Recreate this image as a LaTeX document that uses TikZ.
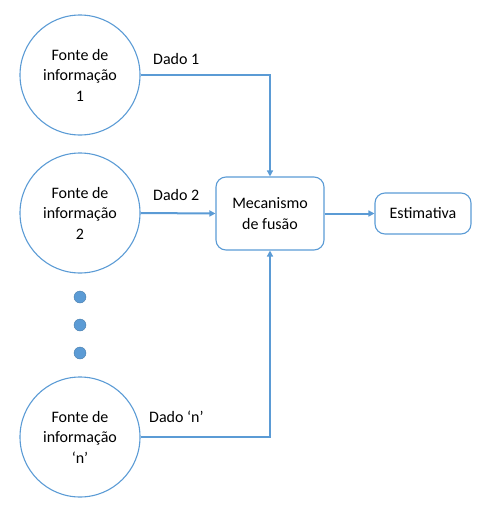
\documentclass[tikz,border=0pt]{standalone}
\usepackage{fontspec}
\setmainfont{Carlito}
\usetikzlibrary{arrows.meta}
\definecolor{lineblue}{RGB}{91,155,213}
\definecolor{dotblue}{RGB}{91,155,213}
\tikzset{
  src/.style={circle, draw=lineblue, line width=1.1pt, minimum size=120pt, inner sep=0pt, align=center, font=\fontsize{16}{20.5}\selectfont},
  boxnode/.style={draw=lineblue, line width=1.1pt, rounded corners=10pt, align=center, inner sep=0pt, font=\fontsize{16}{20.5}\selectfont},
  conn/.style={draw=lineblue, line width=2pt, -{Triangle[length=6pt,width=6pt]}},
  lbl/.style={anchor=west, inner sep=0pt, font=\fontsize{16}{20.5}\selectfont},
  dotnode/.style={circle, fill=dotblue, draw=dotblue!80!black, line width=0.4pt, minimum size=12pt, inner sep=0pt}
}
\begin{document}
\begin{tikzpicture}[x=1pt,y=-1pt]
\useasboundingbox (0,0) rectangle (483,507);
\node[src] (c1) at (80,75) {Fonte de\\informação\\1};
\node[src] (c2) at (80,213) {Fonte de\\informação\\2};
\node[src] (cn) at (80,437) {Fonte de\\informação\\‘n’};
\node[dotnode] (d1) at (80,297) {};
\node[dotnode] (d2) at (80,325) {};
\node[dotnode] (d3) at (80,353) {};
\node[boxnode, minimum width=108pt, minimum height=73pt] (mech) at (270,213.5) {Mecanismo\\de fusão};
\node[boxnode, minimum width=96pt, minimum height=41pt] (est) at (423,213.5) {Estimativa};
\draw[conn] (c1.east) -| (mech.north);
\draw[conn] (c2.east) -- (mech.west);
\draw[conn] (cn.east) -| (mech.south);
\draw[conn] (mech.east) -- (est.west);
\node[lbl] (l1) at (153,59) {Dado 1};
\node[lbl] (l2) at (153,195) {Dado 2};
\node[lbl] (ln) at (149,417) {Dado ‘n’};
\end{tikzpicture}
\end{document}
